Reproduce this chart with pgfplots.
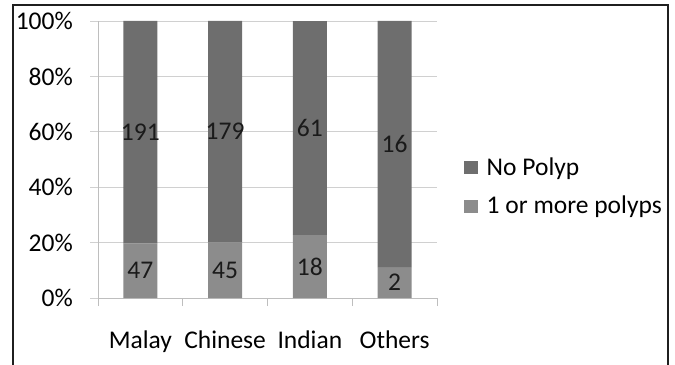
\documentclass[border=0pt]{standalone}
\usepackage{fontspec}
\setmainfont{Carlito}
\usepackage{pgfplots}
\usepackage{pgfplotstable}
\pgfplotsset{compat=1.18}

\definecolor{nopolypc}{HTML}{6E6E6E}
\definecolor{polypc}{HTML}{8C8C8C}
\definecolor{gridgray}{HTML}{D0D0D0}
\definecolor{axisgray}{HTML}{BEBEBE}
\definecolor{labeltext}{HTML}{1A1A1A}

% patients per ethnic group: with one or more polyps / with no polyp
\pgfplotstableread{
idx cat     polyp nopolyp
0   Malay   47    191
1   Chinese 45    179
2   Indian  18    61
3   Others  2     16
}\polyptable

\pgfplotsset{
  sqlegend/.style={legend image code/.code={\fill[##1] (0bp,-6bp) rectangle (13.5bp,7.5bp);}},
  barstyle/.style={ybar, stack plots=y, bar width=34bp, bar shift=0pt, draw=none},
  countlabel/.style={forget plot, draw=none, mark=none, nodes near coords,
    point meta=explicit symbolic,
    every node near coord/.append style={anchor=center, inner sep=0pt, text=labeltext}},
}

\begin{document}
\fontsize{25.5bp}{30bp}\selectfont
\begin{tikzpicture}[x=1bp,y=1bp]
\clip (0,0) rectangle (675,364);
\path[use as bounding box] (0,0) rectangle (675,364);
\draw[line width=2.5bp, black!88] (13,-20) rectangle (668,359);
\begin{axis}[
  at={(98bp,66bp)}, anchor=south west,
  scale only axis, width=339bp, height=277bp,
  xmin=-0.5, xmax=3.5, ymin=0, ymax=100,
  axis lines*=left, axis line style={axisgray, line width=0.8bp},
  tick align=outside,
  xtick={0,1,2,3}, xticklabels={Malay,Chinese,Indian,Others},
  major x tick style={draw=none},
  minor xtick={-0.5,0.5,1.5,2.5,3.5},
  minor x tick style={axisgray, line width=0.8bp}, minor tick length=8bp,
  ytick={0,20,40,60,80,100},
  yticklabels={0\%,20\%,40\%,60\%,80\%,100\%},
  ytick style={gridgray, line width=0.8bp}, major tick length=8bp,
  ymajorgrids, major grid style={gridgray, line width=0.8bp},
  xticklabel style={anchor=base, inner sep=0pt, yshift=-42bp},
  yticklabel style={anchor=east, inner sep=0pt, xshift=-17bp},
  legend style={draw=none, fill=none, at={(1,0.398)}, anchor=west,
    xshift=27bp, inner sep=0pt, row sep=17bp,
    nodes={inner sep=0pt},
    /tikz/every odd column/.append style={column sep=9bp}},
  legend cell align=left,
  reverse legend,
]
\addplot[barstyle, fill=polypc, sqlegend]
  table[x=idx, y expr={100*\thisrow{polyp}/(\thisrow{polyp}+\thisrow{nopolyp})}] {\polyptable};
\addlegendentry{1 or more polyps}
\addplot[barstyle, fill=nopolypc, sqlegend]
  table[x=idx, y expr={100*\thisrow{nopolyp}/(\thisrow{polyp}+\thisrow{nopolyp})}] {\polyptable};
\addlegendentry{No Polyp}

% counts written in the middle of each segment
\addplot[countlabel]
  table[x=idx, y expr={50*\thisrow{polyp}/(\thisrow{polyp}+\thisrow{nopolyp})}, meta=polyp] {\polyptable};
\addplot[countlabel]
  table[x=idx, y expr={100*\thisrow{polyp}/(\thisrow{polyp}+\thisrow{nopolyp})+50*\thisrow{nopolyp}/(\thisrow{polyp}+\thisrow{nopolyp})}, meta=nopolyp] {\polyptable};
\end{axis}
\end{tikzpicture}
\end{document}
